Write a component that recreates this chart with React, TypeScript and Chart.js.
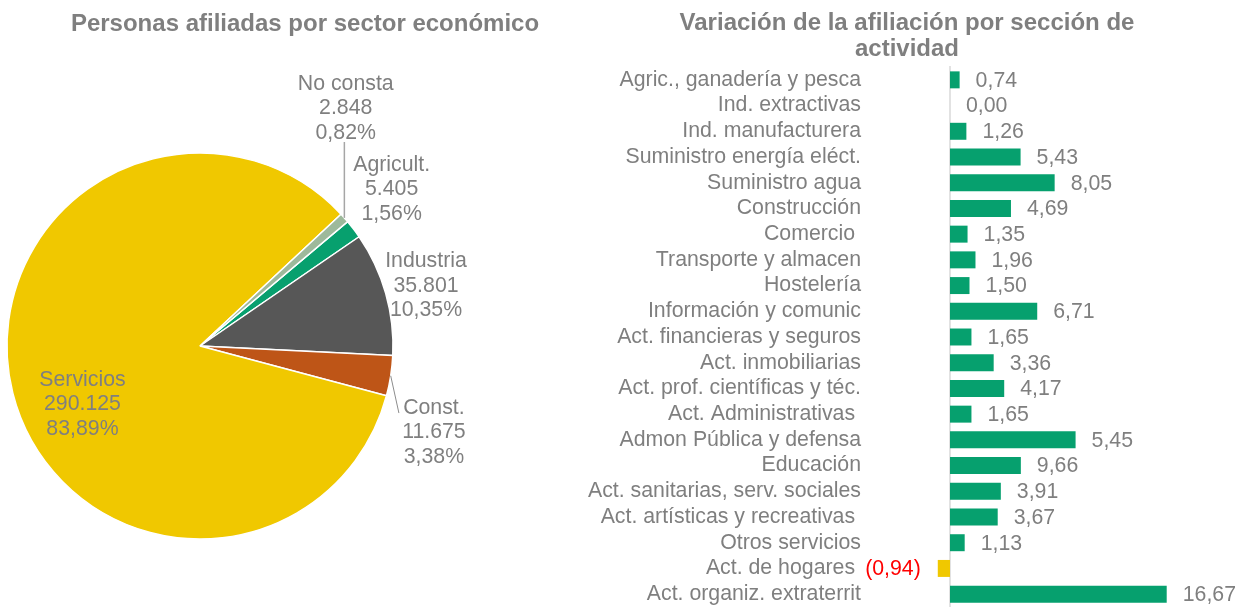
import React, { useEffect, useRef } from "react";
import { Chart, registerables } from "chart.js";

Chart.register(...registerables);

const FONT = '"Liberation Sans", Arial, Helvetica, sans-serif';
const GREY = "#7F7F7F";
const GREEN = "#06A06E";
const YELLOW = "#F0C800";
const RED = "#FF0000";

// ---- Pie: personas afiliadas por sector ----
const pieTitle = "Personas afiliadas por sector económico";
const sectorNames = ["Agricult.", "Industria", "Const.", "Servicios", "No consta"];
const sectorValues = [5405, 35801, 11675, 290125, 2848];
const sectorColors = ["#07A06E", "#575757", "#BE5517", "#F0C800", "#9DB99B"];

// ---- Bars: variación por sección de actividad ----
const barTitle = ["Variación de la afiliación por sección de", "actividad"];
const activityNames = [
  "Agric., ganadería y pesca",
  "Ind. extractivas",
  "Ind. manufacturera",
  "Suministro energía eléct.",
  "Suministro agua",
  "Construcción",
  "Comercio ",
  "Transporte y almacen",
  "Hostelería",
  "Información y comunic",
  "Act. financieras y seguros",
  "Act. inmobiliarias",
  "Act. prof. científicas y téc.",
  "Act. Administrativas ",
  "Admon Pública y defensa",
  "Educación",
  "Act. sanitarias, serv. sociales",
  "Act. artísticas y recreativas ",
  "Otros servicios",
  "Act. de hogares ",
  "Act. organiz. extraterrit",
];
// bar lengths as drawn in the picture
const activityBars = [
  0.74, 0.0, 1.26, 5.43, 8.05, 4.69, 1.35, 1.96, 1.5, 6.71, 1.65, 3.36, 4.17,
  1.65, 9.66, 5.45, 3.91, 3.67, 1.13, -0.94, 16.67,
];
// value labels as printed in the picture
const activityLabels = [
  "0,74", "0,00", "1,26", "5,43", "8,05", "4,69", "1,35", "1,96", "1,50", "6,71",
  "1,65", "3,36", "4,17", "1,65", "5,45", "9,66", "3,91", "3,67", "1,13",
  "(0,94)", "16,67",
];

const fmtThousands = (n: number) =>
  String(n).replace(/\B(?=(\d{3})+(?!\d))/g, ".");

function PieChart() {
  const ref = useRef<HTMLCanvasElement | null>(null);
  useEffect(() => {
    if (!ref.current) return;
    const total = sectorValues.reduce((a, b) => a + b, 0);
    // label block placement relative to the pie centre (in radius units), middle line baseline
    const place = [
      { dx: 0.993, dy: -0.782, leader: "" },
      { dx: 1.171, dy: -0.28, leader: "" },
      { dx: 1.212, dy: 0.477, leader: "diag" },
      { dx: -0.609, dy: 0.332, leader: "" },
      { dx: 0.755, dy: -1.202, leader: "vertical" },
    ];
    const labelPlugin = {
      id: "pieLabels",
      afterDraw(chart: any) {
        const ctx = chart.ctx;
        ctx.save();
        ctx.font = `bold 24px ${FONT}`;
        ctx.fillStyle = GREY;
        ctx.textAlign = "center";
        ctx.textBaseline = "alphabetic";
        ctx.fillText(pieTitle, 305, 31);

        const meta = chart.getDatasetMeta(0);
        meta.data.forEach((arc: any, i: number) => {
          const { x, y, startAngle, endAngle, outerRadius } = arc.getProps(
            ["x", "y", "startAngle", "endAngle", "outerRadius"],
            true
          );
          const mid = (startAngle + endAngle) / 2;
          const p = place[i];
          const tx = x + p.dx * outerRadius;
          const ty = y + p.dy * outerRadius;
          const v = sectorValues[i];
          const lines = [
            sectorNames[i],
            fmtThousands(v),
            ((v / total) * 100).toFixed(2).replace(".", ",") + "%",
          ];
          ctx.font = `21.3px ${FONT}`;
          ctx.fillStyle = GREY;
          ctx.textAlign = "center";
          lines.forEach((l, k) => ctx.fillText(l, tx, ty + (k - 1) * 24.5));
          const ex = x + Math.cos(mid) * outerRadius;
          const ey = y + Math.sin(mid) * outerRadius;
          if (p.leader === "vertical") {
            ctx.strokeStyle = "#A6A6A6";
            ctx.lineWidth = 1.5;
            ctx.beginPath();
            ctx.moveTo(ex, ey);
            ctx.lineTo(ex, ty + 28);
            ctx.stroke();
          } else if (p.leader === "diag") {
            ctx.strokeStyle = "#8C8C8C";
            ctx.lineWidth = 1;
            ctx.beginPath();
            ctx.moveTo(ex, ey);
            ctx.lineTo(tx - 35, ty - 25);
            ctx.stroke();
          }
        });
        ctx.restore();
      },
    };
    const chart = new Chart(ref.current, {
      type: "pie",
      data: {
        labels: sectorNames,
        datasets: [
          {
            data: sectorValues,
            backgroundColor: sectorColors,
            borderColor: "#FFFFFF",
            borderWidth: 1.5,
          },
        ],
      },
      options: {
        responsive: false,
        animation: false,
        rotation: 49.9,
        layout: { padding: { left: 6.25, right: 186.25, top: 152.25, bottom: 67.25 } },
        plugins: {
          legend: { display: false },
          tooltip: { enabled: false },
          title: { display: false },
        },
      },
      plugins: [labelPlugin],
    } as any);
    return () => chart.destroy();
  }, []);
  return <canvas ref={ref} width={580} height={607} style={{ display: "block" }} />;
}

function BarChart() {
  const ref = useRef<HTMLCanvasElement | null>(null);
  useEffect(() => {
    if (!ref.current) return;
    const decor = {
      id: "barDecor",
      beforeDatasetsDraw(chart: any) {
        const ctx = chart.ctx;
        const x0 = chart.scales.x.getPixelForValue(0);
        ctx.save();
        ctx.strokeStyle = "#D9D9D9";
        ctx.lineWidth = 1.5;
        ctx.beginPath();
        ctx.moveTo(x0, chart.chartArea.top - 1);
        ctx.lineTo(x0, chart.chartArea.bottom);
        ctx.stroke();
        ctx.restore();
      },
      afterDraw(chart: any) {
        const ctx = chart.ctx;
        ctx.save();
        ctx.font = `bold 24px ${FONT}`;
        ctx.fillStyle = GREY;
        ctx.textAlign = "center";
        ctx.textBaseline = "alphabetic";
        ctx.fillText(barTitle[0], 327, 30);
        ctx.fillText(barTitle[1], 327, 56);

        ctx.font = `21.3px ${FONT}`;
        ctx.textBaseline = "middle";
        const meta = chart.getDatasetMeta(0);
        meta.data.forEach((bar: any, i: number) => {
          const v = activityBars[i];
          if (v < 0) {
            ctx.fillStyle = RED;
            ctx.textAlign = "right";
            ctx.fillText(activityLabels[i], bar.x - 17, bar.y + 1);
          } else {
            ctx.fillStyle = GREY;
            ctx.textAlign = "left";
            ctx.fillText(activityLabels[i], bar.x + 16, bar.y + 1);
          }
        });
        ctx.restore();
      },
    };
    const chart = new Chart(ref.current, {
      type: "bar",
      data: {
        labels: activityNames,
        datasets: [
          {
            data: activityBars,
            backgroundColor: activityBars.map((v) => (v < 0 ? YELLOW : GREEN)),
            barPercentage: 0.66,
            categoryPercentage: 1,
          },
        ],
      },
      options: {
        indexAxis: "y",
        responsive: false,
        animation: false,
        layout: { padding: { top: 67, right: 64, bottom: 0, left: 0 } },
        plugins: {
          legend: { display: false },
          tooltip: { enabled: false },
          title: { display: false },
        },
        scales: {
          x: { display: false, min: -2, max: 18 },
          y: {
            grid: { display: false },
            border: { display: false },
            ticks: {
              color: GREY,
              font: { family: FONT, size: 21.3 },
              padding: 55,
              autoSkip: false,
            },
            afterFit: (s: any) => {
              s.width = 344;
              s.paddingTop = 0;
              s.paddingBottom = 0;
            },
          },
        },
      },
      plugins: [decor],
    } as any);
    return () => chart.destroy();
  }, []);
  return <canvas ref={ref} width={668} height={607} style={{ display: "block" }} />;
}

export default function App() {
  return (
    <div
      style={{
        position: "fixed",
        left: 0,
        top: 0,
        width: 1248,
        height: 607,
        background: "#FFFFFF",
        overflow: "hidden",
      }}
    >
      <div style={{ position: "absolute", left: 0, top: 0, width: 580, height: 607 }}>
        <PieChart />
      </div>
      <div style={{ position: "absolute", left: 580, top: 0, width: 668, height: 607 }}>
        <BarChart />
      </div>
    </div>
  );
}
